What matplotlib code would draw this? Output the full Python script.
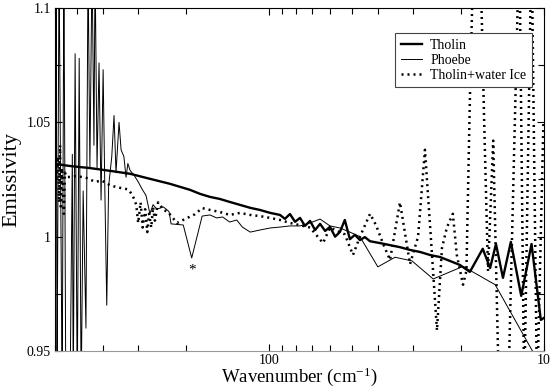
import matplotlib
matplotlib.use("Agg")
import matplotlib.pyplot as plt
from matplotlib.ticker import LogLocator, NullFormatter, FuncFormatter, MultipleLocator

plt.rcParams['font.family'] = ['Liberation Serif', 'DejaVu Serif']
plt.rcParams['mathtext.fontset'] = 'custom'
plt.rcParams['mathtext.rm'] = 'Liberation Serif'
plt.rcParams['mathtext.it'] = 'Liberation Serif:italic'
plt.rcParams['mathtext.bf'] = 'Liberation Serif:bold'

# ---- data (wavenumber cm^-1, emissivity) ----
tholin_w = [600, 529, 448, 379, 320, 271, 229, 194, 178, 164, 151, 139, 127.5, 117, 108, 99, 91.2,
            87.5, 83.9, 80.4, 77.1, 74, 70.9, 68, 65.2, 62.5, 60, 57.5, 55.2, 53, 50.8, 48.7, 46.7,
            44.8, 42.9, 39.5, 36.3, 33.4, 30.7, 28.2, 26.0, 23.9, 22.0, 20.2,
            18.6, 16.7, 15.7, 14.95, 14.1, 13.2, 12.1, 11.1, 10.27, 10.0]
tholin_v = [1.0318, 1.0309, 1.0300, 1.0288, 1.0275, 1.0253, 1.0231, 1.0205, 1.0187, 1.0174, 1.0165,
            1.0152, 1.0139, 1.0126, 1.0117, 1.0104, 1.0095,
            1.0078, 1.0099, 1.0065, 1.0082, 1.0047, 1.0069, 1.0029, 1.0056, 1.0025, 1.0043, 1.0000,
            1.0021, 1.0073, 0.9989, 1.0008, 0.9985, 0.9998, 0.9980, 0.9972, 0.9963, 0.9954, 0.9942,
            0.9933, 0.9920, 0.9911, 0.9894, 0.9876,
            0.9846, 0.9947, 0.9863, 0.9968, 0.9820, 0.9977, 0.9741, 0.9968, 0.9636, 0.9645]

phoebe_w = [600, 594, 590, 580, 565, 557, 548, 529, 519, 515, 507, 498, 490, 482, 474, 463, 455,
            448, 440, 433, 429, 422, 415, 408, 401, 395, 389, 383, 373, 366, 360, 351, 345, 337,
            331, 326, 320, 310, 299, 290, 280, 271, 264, 256, 242, 231, 227, 205, 191, 175, 164,
            155, 147.4, 139, 131, 125, 117, 108, 99, 91.2, 83.9, 77.1, 70.9, 65.2, 60, 55.2, 50.8,
            46.7, 40.2, 34.8, 30.2, 25.3, 19.7, 15.05, 10.0]
phoebe_v = [0.93, 1.12, 0.93, 1.12, 0.93, 1.12, 0.93, 0.93, 1.036, 0.93, 1.080, 0.93, 1.078, 0.93,
            1.020, 0.96, 1.12, 1.030, 1.12, 1.040, 1.12, 1.030, 1.076, 1.016, 1.073, 1.018, 0.970,
            1.022, 1.035, 1.053, 1.028, 1.050, 1.038, 1.035, 1.026, 1.032, 1.029, 1.027, 1.024,
            1.021, 1.018, 1.010, 1.014, 1.012, 1.013, 1.011, 1.0056, 1.0051, 0.9907, 1.0090,
            1.0095, 1.0082, 1.0086, 1.0064, 1.0073, 1.0042, 1.0020, 1.0029, 1.0038, 1.0042,
            1.0047, 1.0047, 1.0060, 1.0077, 1.0047, 1.0038, 1.0020, 1.0000, 0.9868, 0.9910,
            0.9894, 0.9815, 0.9870, 0.9790, 0.9410]

ice_w = [594, 585, 580, 575, 571, 566, 561, 557, 552, 543, 507, 467, 429, 405, 379, 354, 334, 324,
         313, 304, 299, 293, 288, 282, 277, 273, 268, 264, 260, 253, 242, 233, 222, 216, 202, 186,
         175, 164, 151, 139, 127.5, 117, 108, 99, 91.2, 83.9, 77.1, 70.9, 63.6, 60, 53, 49.5, 46.7,
         42.9, 40.8, 38.5, 36.3, 33.4, 30.7, 28.7, 27.1, 25.8, 24.5, 23.5, 22.55, 21.45, 20.75,
         19.7, 19.15, 18.6, 18.0, 17.1, 16.5, 15.98, 15.3, 14.57, 13.5, 12.3, 11.8, 11.1, 10.6, 10.05]
ice_v = [1.025, 1.035, 1.015, 1.040, 1.012, 1.030, 1.020, 1.010, 1.028, 1.026, 1.0264, 1.026, 1.024,
         1.0245, 1.0225, 1.0215, 1.021, 1.0205, 1.018, 1.014, 1.006, 1.015, 1.004, 1.012, 1.002,
         1.010, 1.004, 1.013, 1.007, 1.015, 1.0117, 1.0108, 1.0077, 1.006, 1.0077, 1.0098, 1.0125,
         1.0117, 1.0108, 1.0095, 1.0104, 1.0095, 1.009, 1.0082, 1.0073, 1.006, 1.005, 1.004, 0.9972,
         1.004, 1.001, 0.992, 1.000, 1.010, 1.005, 0.997, 0.9898, 1.015, 0.988, 1.000, 1.038, 1.000,
         0.959, 0.995, 1.004, 1.010, 0.992, 0.979, 0.985, 1.060, 1.130, 1.130, 1.050, 0.985, 1.042,
         0.930, 0.930, 1.130, 0.930, 1.130, 0.930, 1.050]

star_w, star_v = 191, 0.9854

fig = plt.figure(figsize=(5.54, 3.89), dpi=100)
ax = fig.add_axes([55/554, 38/389, 489/554, 343/389])

ax.plot(tholin_w, tholin_v, color='black', lw=1.7, label='Tholin', zorder=3)
ax.plot(phoebe_w, phoebe_v, color='black', lw=0.7, label='Phoebe', zorder=2)
ax.plot(ice_w, ice_v, color='black', lw=1.8, linestyle=(0, (0.8, 1.6)), label='Tholin+water Ice', zorder=2)
ax.text(star_w, star_v, '*', ha='center', va='center', fontsize=11)

ax.set_xscale('log')
ax.set_xlim(600, 10)
ax.set_ylim(0.95, 1.1)

ax.xaxis.set_major_locator(LogLocator(base=10))
ax.xaxis.set_minor_locator(LogLocator(base=10, subs=range(2, 10)))
ax.xaxis.set_major_formatter(FuncFormatter(lambda v, p: '%g' % v))
ax.xaxis.set_minor_formatter(NullFormatter())
ax.yaxis.set_major_locator(MultipleLocator(0.05))
ax.yaxis.set_minor_locator(MultipleLocator(0.025))
ax.yaxis.set_major_formatter(FuncFormatter(lambda v, p: '%g' % round(v, 3)))

ax.tick_params(which='both', direction='in', top=True, right=True, labelsize=10)
ax.tick_params(axis='x', pad=2)
ax.tick_params(axis='y', pad=3)
ax.tick_params(which='major', length=5, width=0.8)
ax.tick_params(which='minor', length=4, width=0.8)
ax.spines['bottom'].set_color('#999999')
for s in ['top', 'left', 'right']:
    ax.spines[s].set_color('black')

ax.set_xlabel('Wavenumber (cm$^{\\mathregular{-1}}$)', fontsize=13.5, labelpad=-1)
ax.set_ylabel('Emissivity', fontsize=16, labelpad=4)

leg = ax.legend(loc='upper right', bbox_to_anchor=(0.975, 0.927), borderaxespad=0,
                fontsize=10, fancybox=False, framealpha=1, edgecolor='#444444',
                handlelength=1.5, handletextpad=0.6, labelspacing=0.15, borderpad=0.4)
leg.get_frame().set_linewidth(0.8)

fig.savefig('out.png', dpi=100)
